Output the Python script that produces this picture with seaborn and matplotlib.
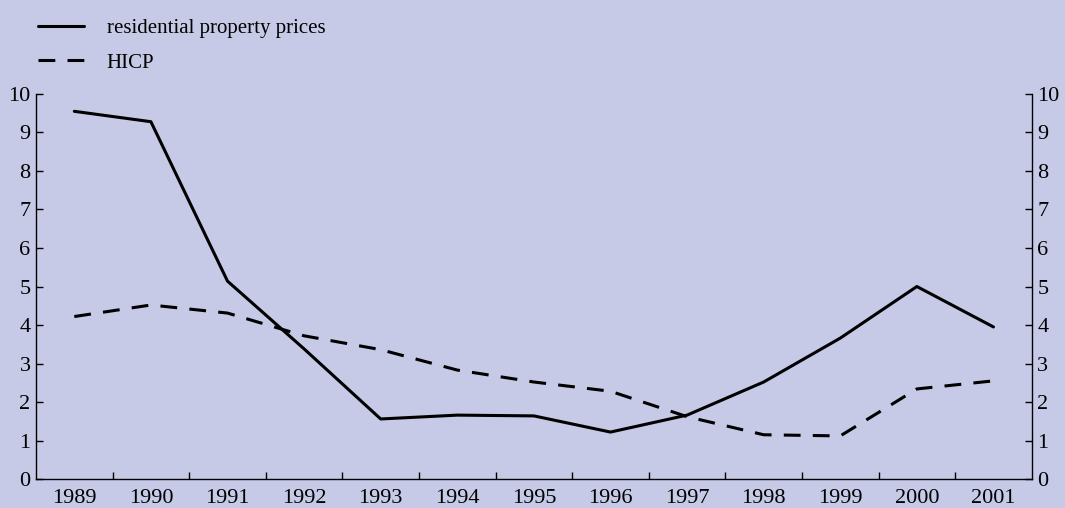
import pandas as pd
import numpy as np
import matplotlib
matplotlib.use("Agg")
import matplotlib.pyplot as plt
import seaborn as sns

years = list(range(1989, 2002))
property_prices = [9.55, 9.28, 5.14, 3.38, 1.56, 1.66, 1.64, 1.22, 1.66, 2.52, 3.66, 5.0, 3.95]
hicp = [4.22, 4.52, 4.31, 3.72, 3.36, 2.83, 2.52, 2.28, 1.62, 1.15, 1.12, 2.34, 2.55]
series_names = ["residential property prices", "HICP"]

df = pd.DataFrame({
    "year": years * 2,
    "value": property_prices + hicp,
    "series": [series_names[0]] * len(years) + [series_names[1]] * len(years),
})

bg = "#c6cae6"
dash = (5.5, 4)
sns.set_theme(style="ticks")
plt.rcParams["font.family"] = ["Liberation Serif", "DejaVu Serif"]
plt.rcParams["text.color"] = "black"
plt.rcParams["xtick.color"] = "black"
plt.rcParams["ytick.color"] = "black"

fig = plt.figure(figsize=(10.65, 5.08), dpi=100, facecolor=bg)
ax = fig.add_axes([0.0338, 0.057, 0.935, 0.758])
ax.set_facecolor(bg)

sns.lineplot(data=df, x="year", y="value", style="series", color="black",
             dashes={series_names[0]: "", series_names[1]: dash},
             linewidth=2.2, ax=ax, legend=False)

ax.set_xlim(1988.5, 2001.5)
ax.set_ylim(0, 10)
ax.set_xticks(years)
ax.set_xticklabels([str(y) for y in years], fontsize=16)
ax.tick_params(axis="x", which="major", length=0, pad=7)
ax.set_xticks(np.arange(1989.5, 2001.5, 1), minor=True)
ax.tick_params(axis="x", which="minor", direction="in", length=5, width=1)
ax.set_yticks(range(0, 11))
ax.tick_params(axis="y", direction="in", length=5, width=1, labelsize=16,
               left=True, right=True, labelleft=True, labelright=True, pad=4)
ax.set_xlabel("")
ax.set_ylabel("")
for side in ["left", "right", "bottom"]:
    ax.spines[side].set_color("black")
    ax.spines[side].set_linewidth(1)
ax.spines["top"].set_visible(False)
ax.spines["right"].set_visible(True)

handles = [plt.Line2D([], [], color="black", lw=2.2),
           plt.Line2D([], [], color="black", lw=2.2, dashes=dash)]
fig.legend(handles, series_names, loc="upper left", bbox_to_anchor=(0.018, 1.0),
           frameon=False, fontsize=15, handlelength=2.2, handletextpad=1.1,
           labelspacing=0.7)

fig.savefig("out.png", dpi=100, facecolor=bg)
